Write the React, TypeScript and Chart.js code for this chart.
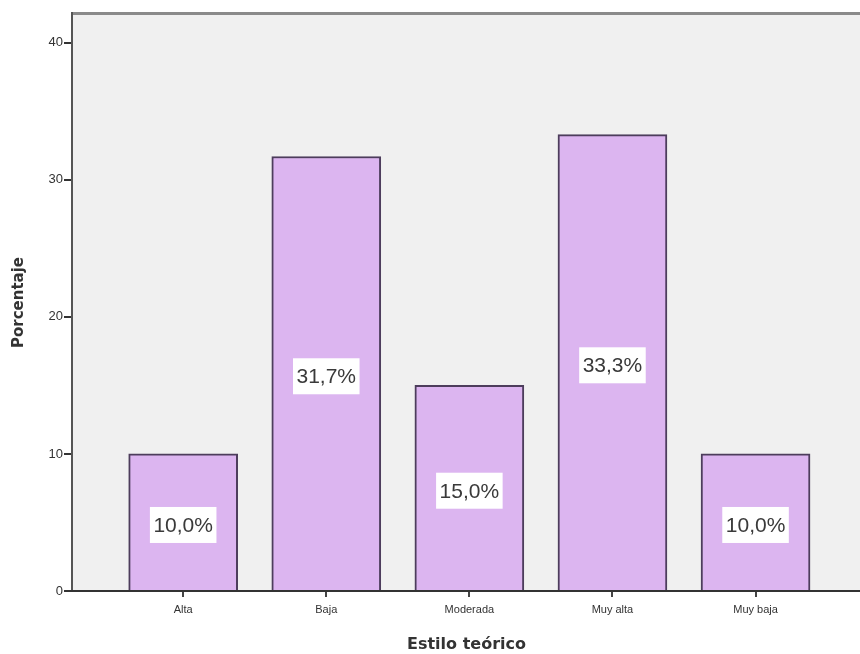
import React, { useEffect, useRef } from "react";
import { Chart, registerables } from "chart.js";

Chart.register(...registerables);

const categories = ["Alta", "Baja", "Moderada", "Muy alta", "Muy baja"];
const percentages = [10.0, 31.7, 15.0, 33.3, 10.0];
const valueLabels = ["10,0%", "31,7%", "15,0%", "33,3%", "10,0%"];
const yTicks = [0, 10, 20, 30, 40];

const framePlugin = {
  id: "frame",
  beforeDraw(chart: any) {
    const { ctx, chartArea: a } = chart;
    ctx.save();
    ctx.fillStyle = "#f0f0f0";
    ctx.fillRect(a.left, a.top, a.right - a.left, a.bottom - a.top);
    ctx.restore();
  },
  afterDatasetsDraw(chart: any) {
    const { ctx, chartArea: a } = chart;
    ctx.save();
    ctx.fillStyle = "#8a8a8a";
    ctx.fillRect(a.left - 2, a.top - 2, a.right - a.left + 2, 3);
    ctx.fillStyle = "#555555";
    ctx.fillRect(a.left - 2, a.top - 2, 2, a.bottom - a.top + 3);
    ctx.fillStyle = "#333333";
    ctx.fillRect(a.left - 2, a.bottom - 1, a.right - a.left + 2, 2);

    const meta = chart.getDatasetMeta(0);
    ctx.font = "21px 'Liberation Sans', Arial, sans-serif";
    ctx.textAlign = "center";
    ctx.textBaseline = "middle";
    meta.data.forEach((bar: any, i: number) => {
      const x = bar.x;
      const y = (bar.y + bar.base) / 2 + 3;
      const text = valueLabels[i];
      const w = ctx.measureText(text).width + 7;
      const h = 36;
      ctx.fillStyle = "#ffffff";
      ctx.fillRect(x - w / 2, y - h / 2, w, h);
      ctx.fillStyle = "#3a3a3a";
      ctx.fillText(text, x, y + 1);
    });
    ctx.restore();
  },
};

export default function App() {
  const ref = useRef<HTMLCanvasElement>(null);
  useEffect(() => {
    document.body.style.margin = "0";
    const chart = new Chart(ref.current!, {
      type: "bar",
      data: {
        datasets: [
          {
            data: percentages.map((v, i) => ({ x: i, y: v })),
            backgroundColor: "#dcb5f0",
            borderColor: "#4d3d5c",
            borderWidth: 2,
            barThickness: 109,
          },
        ],
      },
      plugins: [framePlugin],
      options: {
        animation: false,
        responsive: false,
        maintainAspectRatio: false,
        layout: { padding: { top: 14, right: 0, left: 0, bottom: 0 } },
        plugins: {
          legend: { display: false },
          tooltip: { enabled: false },
        },
        scales: {
          x: {
            type: "linear",
            offset: false,
            min: -0.77,
            max: 4.73,
            afterBuildTicks(scale: any) {
              scale.ticks = categories.map((_, i) => ({ value: i }));
            },
            afterFit(scale: any) {
              scale.height = 63;
            },
            ticks: {
              callback: (v: any) => categories[Math.round(Number(v))] ?? "",
              color: "#333333",
              font: { size: 11, family: "'Liberation Sans', Arial, sans-serif" },
              padding: 6,
              maxRotation: 0,
              autoSkip: false,
            },
            grid: {
              offset: false,
              drawOnChartArea: false,
              drawTicks: true,
              tickLength: 6,
              color: "#444444",
              lineWidth: 2,
            },
            border: { display: false },
            title: {
              display: true,
              text: "Estilo teórico",
              color: "#333333",
              font: { size: 16, weight: "bold", family: "'DejaVu Sans', sans-serif" },
              padding: { top: 6, bottom: 0 },
            },
          },
          y: {
            min: 0,
            max: 42.1,
            afterBuildTicks(scale: any) {
              scale.ticks = yTicks.map((v) => ({ value: v }));
            },
            afterFit(scale: any) {
              scale.width = 73;
            },
            ticks: {
              color: "#333333",
              font: { size: 13, family: "'Liberation Sans', Arial, sans-serif" },
              padding: 1,
            },
            grid: {
              drawOnChartArea: false,
              drawTicks: true,
              tickLength: 9,
              color: "#333333",
              lineWidth: 2,
            },
            border: { display: false },
            title: {
              display: true,
              text: "Porcentaje",
              color: "#333333",
              font: { size: 15, weight: "bold", family: "'DejaVu Sans', sans-serif" },
              padding: { top: 10, bottom: 8 },
            },
          },
        },
      },
    } as any);
    return () => chart.destroy();
  }, []);
  return (
    <div style={{ position: "absolute", left: 0, top: 0, width: 860, height: 654, background: "#ffffff" }}>
      <canvas ref={ref} width={860} height={654} style={{ display: "block" }} />
    </div>
  );
}
